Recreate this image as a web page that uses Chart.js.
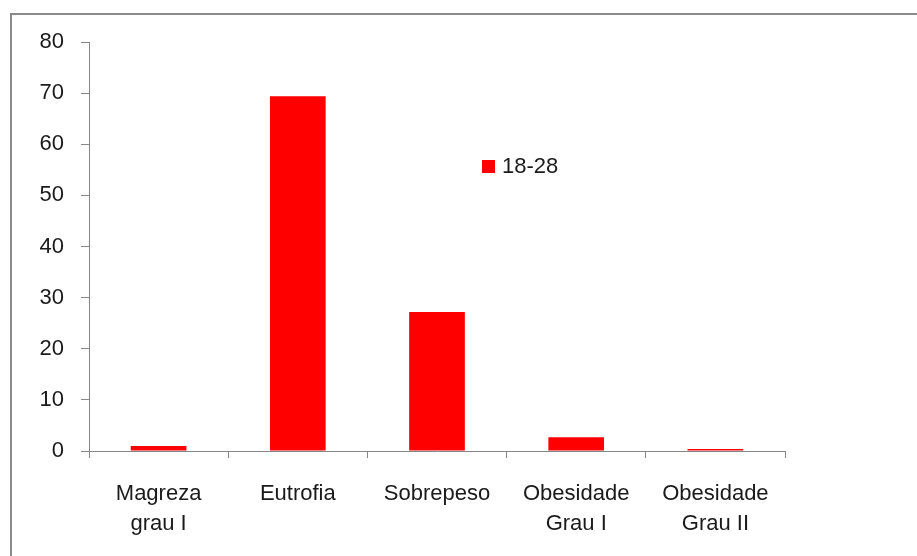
<!DOCTYPE html>
<html>
<head>
<meta charset="utf-8">
<script src="https://cdn.jsdelivr.net/npm/chart.js@4"></script>
<style>
    html, body { margin: 0; padding: 0; background: #fff; overflow: hidden; }
    #wrap { position: relative; width: 917px; height: 556px; }
    #frame { position: absolute; left: 10px; top: 13px; width: 920px; height: 560px; border: 2px solid #8a8a8a; box-sizing: border-box; }
    #legend { position: absolute; left: 482px; top: 153px; font: 22px 'Liberation Sans', Arial, sans-serif; color: #1a1a1a; display: flex; align-items: center; }
    #legend span.box { display: inline-block; width: 13px; height: 13px; margin-right: 7px; }
</style>
</head>
<body>
<div id="wrap">
    <div id="frame"></div>
    <canvas id="barChart" width="917" height="556"></canvas>
    <div id="legend"></div>
</div>
<script>
const categories = [['Magreza', 'grau I'], 'Eutrofia', 'Sobrepeso', ['Obesidade', 'Grau I'], ['Obesidade', 'Grau II']];
const seriesName = '18-28';
const values = [1.0, 69.4, 27.2, 2.7, 0.4];
const yTicks = [0, 10, 20, 30, 40, 50, 60, 70, 80];

const barColor = '#ff0000';
const axisColor = '#868686';
const textColor = '#1a1a1a';
const yFont = { family: "'Liberation Sans', Arial, sans-serif", size: 22 };
const xFont = { family: "'Liberation Sans', Arial, sans-serif", size: 22, lineHeight: 1.36 };

document.getElementById('legend').innerHTML =
    '<span class="box" style="background:' + barColor + '"></span>' + seriesName;

const ctx = document.getElementById('barChart').getContext('2d');
new Chart(ctx, {
    type: 'bar',
    data: {
        labels: categories,
        datasets: [{
            label: seriesName,
            data: values,
            backgroundColor: barColor,
            barPercentage: 0.4,
            categoryPercentage: 1.0
        }]
    },
    options: {
        responsive: false,
        animation: false,
        layout: { padding: { top: 42, right: 132, left: 0, bottom: 0 } },
        plugins: {
            legend: { display: false },
            tooltip: { enabled: false }
        },
        scales: {
            x: {
                afterFit: (scale) => { scale.height = 105; },
                grid: {
                    offset: true,
                    drawOnChartArea: false,
                    drawTicks: true,
                    tickLength: 7,
                    color: axisColor
                },
                border: { color: axisColor, width: 1 },
                ticks: { color: textColor, font: xFont, padding: 21, maxRotation: 0, autoSkip: false }
            },
            y: {
                min: 0,
                max: 80,
                afterFit: (scale) => { scale.width = 89; },
                afterBuildTicks: (scale) => { scale.ticks = yTicks.map(v => ({ value: v })); },
                grid: {
                    drawOnChartArea: false,
                    drawTicks: true,
                    tickLength: 8,
                    color: axisColor
                },
                border: { color: axisColor, width: 1 },
                ticks: { color: textColor, font: yFont, padding: 17 }
            }
        }
    }
});
</script>
</body>
</html>
